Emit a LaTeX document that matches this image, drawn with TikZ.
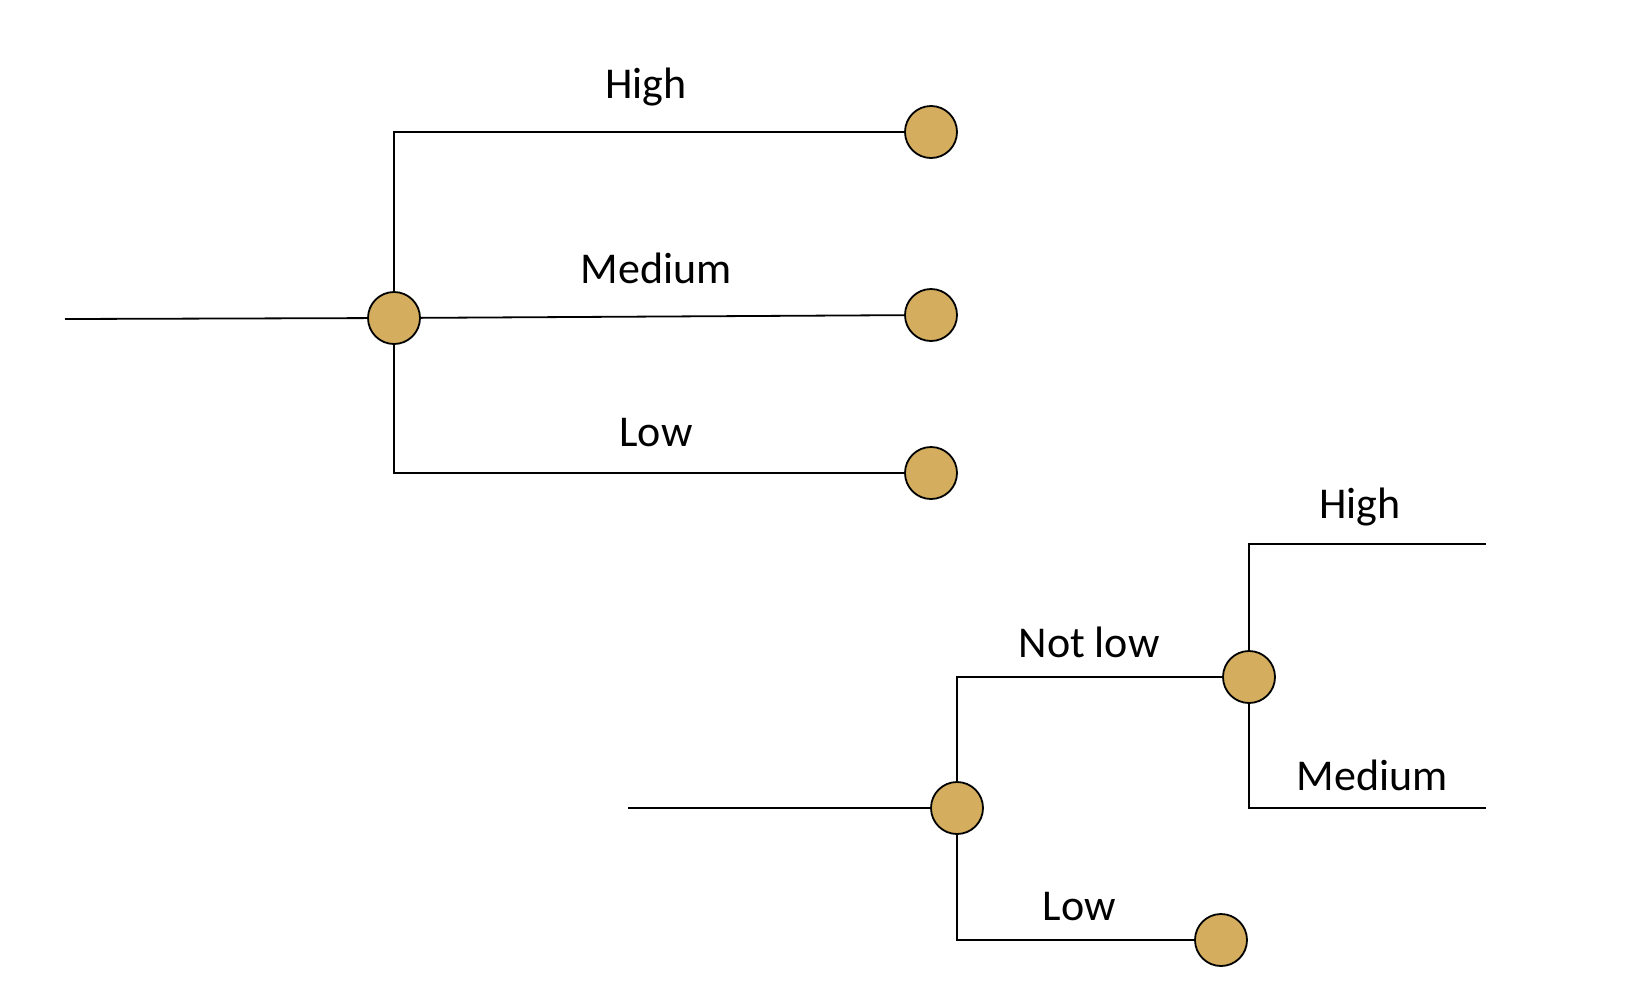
\documentclass[tikz,border=0pt]{standalone}
\usepackage{fontspec}
\setmainfont{Carlito}
\definecolor{gold}{RGB}{212,174,94}
\begin{document}
\begin{tikzpicture}[x=1pt,y=-1pt,
  chance/.style={circle,draw=black,line width=1.8pt,fill=gold,minimum size=52pt,inner sep=0pt},
  branch/.style={line width=1.8pt},
  lbl/.style={font=\fontsize{44}{50}\selectfont,inner sep=0pt}]
\useasboundingbox (0,0) rectangle (1632,1002);
% tree 1
\node[chance] (r1) at (394,318) {};
\node[chance] (c1) at (931,132) {};
\node[chance] (c2) at (931,315) {};
\node[chance] (c3) at (931,473) {};
\coordinate (in1) at (65,319);
\draw[branch] (in1) -- (r1);
\draw[branch] (r1) |- (c1);
\draw[branch] (r1) -- (c2);
\draw[branch] (r1) |- (c3);
\node[lbl] (l1) at (646,87) {High};
\node[lbl] (l2) at (656,268) {Medium};
\node[lbl] (l3) at (656,433) {Low};
% tree 2
\node[chance] (r2) at (957,808) {};
\node[chance] (n1) at (1249,677) {};
\node[chance] (n2) at (1221,940) {};
\coordinate (in2) at (628,808);
\coordinate (e1) at (1486,544);
\coordinate (e2) at (1486,808);
\draw[branch] (in2) -- (r2);
\draw[branch] (r2) |- (n1);
\draw[branch] (r2) |- (n2);
\draw[branch] (n1) |- (e1);
\draw[branch] (n1) |- (e2);
\node[lbl] (l4) at (1089,642) {Not low};
\node[lbl] (l5) at (1079,907) {Low};
\node[lbl] (l6) at (1360,507) {High};
\node[lbl] (l7) at (1372,775) {Medium};
\end{tikzpicture}
\end{document}
